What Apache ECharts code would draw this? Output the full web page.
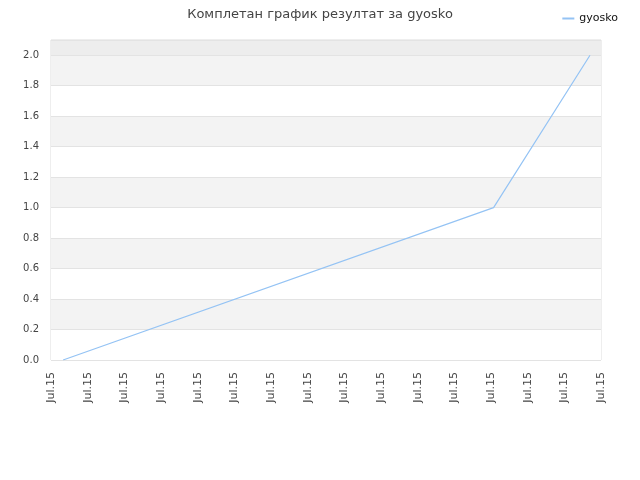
<!DOCTYPE html>
<html>
<head>
<meta charset="utf-8">
<script src="https://cdn.jsdelivr.net/npm/echarts@6/dist/echarts.min.js"></script>
<style>html,body{margin:0;padding:0;background:#fff}#c{width:640px;height:480px}</style>
</head>
<body>
<div id="c"></div>
<script>
var titleText = 'Комплетан график резултат за gyosko';
var seriesName = 'gyosko';
var xTickLabels = ['Jul.15','Jul.15','Jul.15','Jul.15','Jul.15','Jul.15','Jul.15','Jul.15','Jul.15','Jul.15','Jul.15','Jul.15','Jul.15','Jul.15','Jul.15','Jul.15'];
var xPositions = [0.33, 12.07, 14.7];
var yValues = [0, 1.0, 2.0];

var data = xPositions.map(function (x, i) { return [x, yValues[i]]; });
var chart = echarts.init(document.getElementById('c'));
chart.setOption({
  animation: false,
  backgroundColor: '#fff',
  title: {
    text: titleText,
    left: 'center',
    top: 3,
    textStyle: { fontFamily: 'DejaVu Sans', fontSize: 13, fontWeight: 'normal', color: '#444' }
  },
  legend: {
    right: 17,
    top: 8,
    icon: 'rect',
    itemWidth: 12,
    itemHeight: 2,
    itemGap: 8,
    textStyle: { fontFamily: 'DejaVu Sans', fontSize: 11, color: '#111' },
    data: [seriesName]
  },
  grid: { left: 51, right: 39, top: 40, bottom: 120, show: true, borderColor: '#dddddd', borderWidth: 1 },
  xAxis: {
    type: 'value',
    min: 0,
    max: xTickLabels.length - 1,
    interval: 1,
    axisLine: { show: false },
    axisTick: { show: false },
    splitLine: { show: false },
    axisLabel: {
      rotate: 90,
      margin: 12,
      fontFamily: 'DejaVu Sans',
      fontSize: 11,
      color: '#444',
      formatter: function (v) { return xTickLabels[Math.round(v)] || ''; }
    }
  },
  yAxis: {
    type: 'value',
    min: 0,
    max: 2.1,
    interval: 0.2,
    axisLine: { show: false },
    axisTick: { show: false },
    splitLine: { show: true, lineStyle: { color: '#e3e3e3', width: 1 } },
    splitArea: { show: true, areaStyle: { color: ['#ffffff','#f3f3f3','#ffffff','#f3f3f3','#ffffff','#f3f3f3','#ffffff','#f3f3f3','#ffffff','#f3f3f3','#ededed'] } },
    axisLabel: {
      margin: 12,
      fontFamily: 'DejaVu Sans',
      fontSize: 10,
      color: '#444',
      formatter: function (v) { return v > 2.05 ? '' : v.toFixed(1); }
    }
  },
  series: [{
    name: seriesName,
    type: 'line',
    data: data,
    showSymbol: false,
    symbol: 'none',
    lineStyle: { color: '#94c3f4', width: 1.2 },
    itemStyle: { color: '#94c3f4' }
  }]
});
</script>
</body>
</html>
